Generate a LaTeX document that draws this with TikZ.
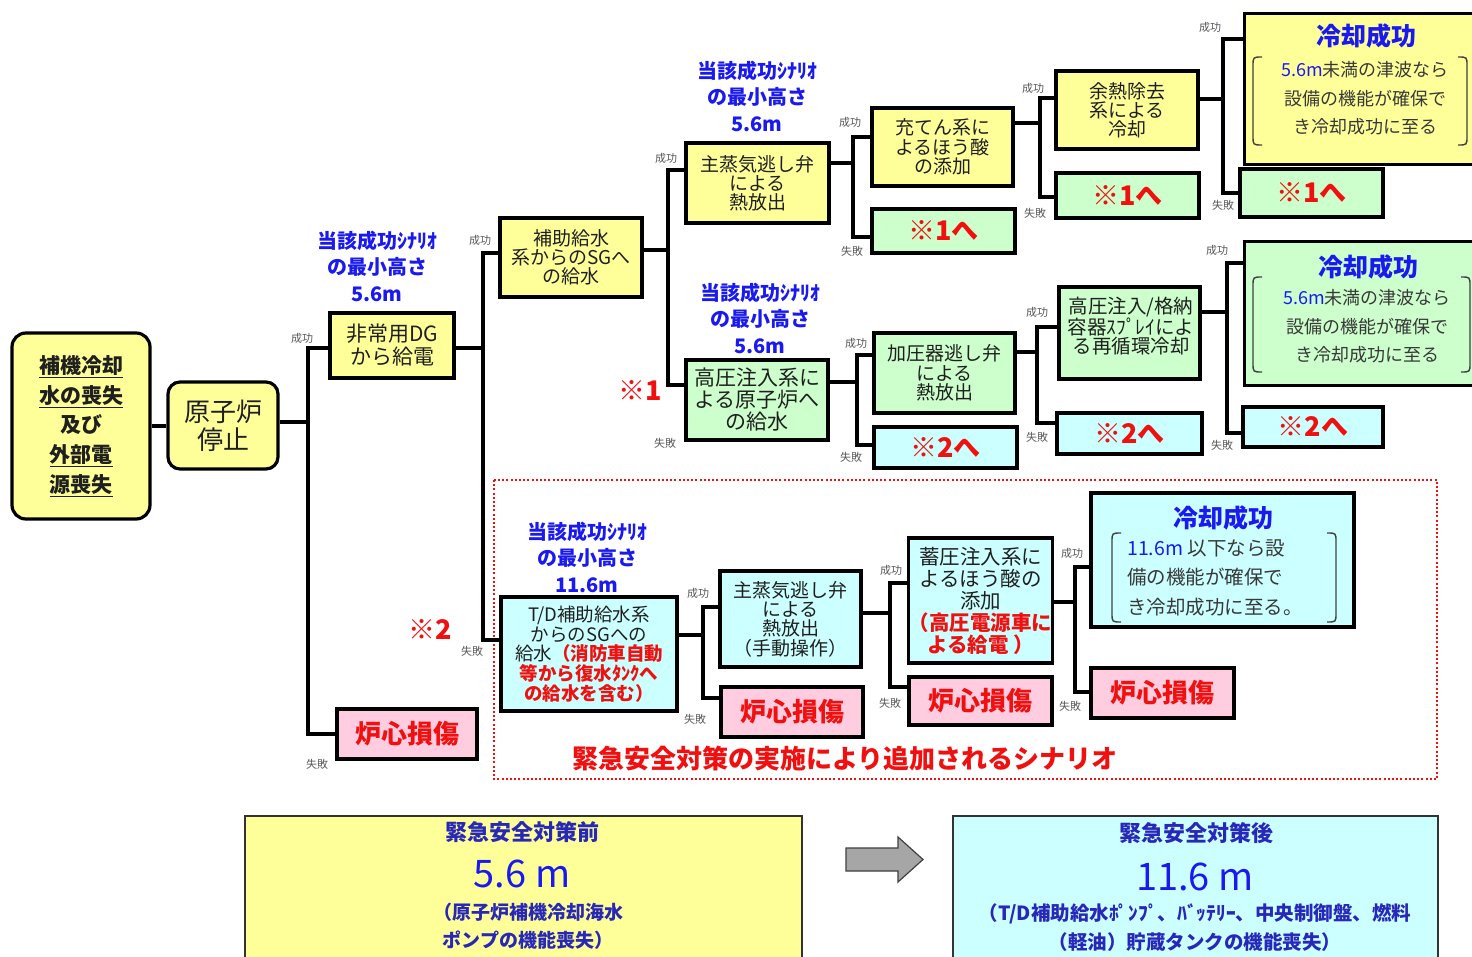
\documentclass[tikz,border=0pt]{standalone}
\usepackage{fontspec}
\setmainfont{Noto Sans CJK JP}
\newcommand\setfs[2]{\fontsize{#1}{#2}\selectfont}
\definecolor{ybox}{HTML}{FFFF99}
\definecolor{gbox}{HTML}{CCFFCC}
\definecolor{cbox}{HTML}{CCFFFF}
\definecolor{pbox}{HTML}{FFCCE0}
\definecolor{myblue}{HTML}{1A1AF0}
\definecolor{botblue}{HTML}{2828B8}
\definecolor{myred}{HTML}{F01010}
\newcommand\junc[8]{%
  \coordinate (#1i) at (#2,#3);
  \coordinate (#1t) at (#2,#4);
  \coordinate (#1b) at (#2,#5);
  \draw[conn] (#6.east |- #1i) -- (#1i);
  \draw[conn] (#7.west |- #1t) -- (#1t) -- (#1b) -- (#8.west |- #1b);}
\begin{document}
\begin{tikzpicture}[x=1pt,y=-1pt,
  box/.style={draw=black, line width=3.2pt, inner sep=0pt, align=center, text=black!88, font=\setfs{19}{19.5}},
  yb/.style={box, fill=ybox},
  gb/.style={box, fill=gbox},
  cb/.style={box, fill=cbox},
  pb/.style={box, fill=pbox, text=myred, font=\bfseries\setfs{26}{26}},
  refb/.style={text=myred, font=\bfseries\setfs{27}{27}},
  conn/.style={line width=4pt, draw=black},
  sm/.style={font=\setfs{11}{11}, text=black!65, inner sep=0pt},
  blu/.style={font=\bfseries\setfs{20}{26.5}, text=myblue, align=center, inner sep=0pt},
  okt/.style={font=\bfseries\setfs{25}{25}, text=myblue, inner sep=0pt},
  okb/.style={font=\setfs{18}{28.5}, text=black!78, align=center, inner sep=0pt},
  brk/.style={line width=1.4pt, draw=black!75},
  botb/.style={draw=black!80, line width=1.8pt, anchor=north west},
  bott/.style={font=\bfseries\setfs{22}{22}, text=botblue, inner sep=0pt},
]
\useasboundingbox (0,0) rectangle (1472,957);
\clip (0,0) rectangle (1472,957);
\fill[white] (0,0) rectangle (1472,957);

% red dotted frame
\draw[myred, line width=2.5pt, dash pattern=on 2pt off 2.2pt] (494,480) rectangle (1437,779);
\node[text=myred, font=\bfseries\setfs{26}{26}, inner sep=0pt] (scen) at (845,759) {緊急安全対策の実施により追加されるシナリオ};

% boxes
\node[yb, rounded corners=14pt, minimum width=138pt, minimum height=186pt, font=\bfseries\setfs{21}{29.7}] (b0) at (81,426)
  {\underline{補機冷却}\\\underline{水の喪失}\\及び\\\underline{外部電}\\\underline{源喪失}};
\node[yb, rounded corners=12pt, minimum width=110pt, minimum height=87pt, font=\setfs{26}{28}] (b1) at (223,425.5) {原子炉\\停止};
\node[yb, minimum width=124pt, minimum height=65pt, font=\setfs{21}{23}] (dg) at (392,345.5) {非常用DG\\から給電};
\node[yb, minimum width=142pt, minimum height=79pt, font=\setfs{19}{19}] (aux) at (571,257.5) {補助給水\\系からのSGへ\\の給水};
\node[yb, minimum width=143pt, minimum height=80pt, font=\setfs{19}{19}] (ms1) at (757.5,183) {主蒸気逃し弁\\による\\熱放出};
\node[gb, minimum width=142pt, minimum height=80pt, font=\setfs{21}{22}] (hpi) at (757,400) {高圧注入系に\\よる原子炉へ\\の給水};
\node[yb, minimum width=141pt, minimum height=78pt] (chg) at (942.5,147) {充てん系に\\よるほう酸\\の添加};
\node[gb, minimum width=143pt, minimum height=44pt] (f1a) at (943.5,231) {\textcolor{myred}{\bfseries\setfs{27}{27}※1へ}};
\node[yb, minimum width=142pt, minimum height=78pt, font=\setfs{19}{19}] (rhr) at (1127,110) {余熱除去\\系による\\冷却};
\node[gb, minimum width=143pt, minimum height=45pt] (f1b) at (1127.5,195.5) {\textcolor{myred}{\bfseries\setfs{27}{27}※1へ}};
\node[yb, anchor=north west, minimum width=260pt, minimum height=151pt] (ok1) at (1243,12) {};
\node[gb, minimum width=143pt, minimum height=48pt] (f1c) at (1311.5,193) {\textcolor{myred}{\bfseries\setfs{27}{27}※1へ}};

\node[gb, minimum width=141pt, minimum height=80pt] (prz) at (944.5,373) {加圧器逃し弁\\による\\熱放出};
\node[cb, minimum width=143pt, minimum height=41pt] (f2a) at (945.5,447.5) {\textcolor{myred}{\bfseries\setfs{27}{27}※2へ}};
\node[gb, minimum width=141pt, minimum height=92pt] (rec) at (1129.5,333) {};
\node[inner sep=0pt, align=center, text=black!88, font=\setfs{19.5}{19.5}] (rect) at (1131,326) {高圧注入/格納\\容器ｽﾌﾟﾚｲによ\\る再循環冷却};
\node[cb, minimum width=145pt, minimum height=41pt] (f2b) at (1129.5,433.5) {\textcolor{myred}{\bfseries\setfs{27}{27}※2へ}};
\node[gb, anchor=north west, minimum width=260pt, minimum height=144pt] (ok2) at (1243,240) {};
\node[cb, minimum width=140pt, minimum height=40pt] (f2c) at (1313,427) {\textcolor{myred}{\bfseries\setfs{27}{27}※2へ}};

\node[pb, minimum width=140pt, minimum height=50pt] (cd1) at (407,734) {炉心損傷};
\node[cb, minimum width=176pt, minimum height=114pt, font=\setfs{18.5}{19.7}] (td) at (589,654)
  {T/D補助給水系\\からのSGへの\\給水\textcolor{myred}{\bfseries （消防車自動}\\\textcolor{myred}{\bfseries 等から復水ﾀﾝｸへ}\\\textcolor{myred}{\bfseries の給水を含む）}};
\node[cb, minimum width=141pt, minimum height=96pt, font=\setfs{19}{19.3}] (ms2) at (790.5,619) {主蒸気逃し弁\\による\\熱放出\\（手動操作）};
\node[pb, minimum width=142pt, minimum height=50pt] (cd2) at (792,712) {炉心損傷};
\node[cb, minimum width=143pt, minimum height=125pt, font=\setfs{20.5}{22}] (acc) at (980.5,600.5)
  {蓄圧注入系に\\よるほう酸の\\添加\\\textcolor{myred}{\bfseries （高圧電源車に}\\\textcolor{myred}{\bfseries よる給電 ）}};
\node[pb, minimum width=143pt, minimum height=48pt] (cd3) at (980.5,701) {炉心損傷};
\node[cb, minimum width=263pt, minimum height=134pt] (ok3) at (1222.5,560) {};
\node[pb, minimum width=143pt, minimum height=50pt] (cd4) at (1162.5,693) {炉心損傷};

% success box texts
\node[okt] (ok1t) at (1366,36) {冷却成功};
\node[okb] (ok1x) at (1365,98.5) {\textcolor{myblue}{5.6m}未満の津波なら\\設備の機能が確保で\\き冷却成功に至る};
\draw[brk] (1262,57) .. controls (1253,57) .. (1253,66) -- (1253,136) .. controls (1253,145) .. (1262,145);
\draw[brk] (1458,57) .. controls (1467,57) .. (1467,66) -- (1467,136) .. controls (1467,145) .. (1458,145);
\node[okt] (ok2t) at (1368,267) {冷却成功};
\node[okb] (ok2x) at (1367,326.5) {\textcolor{myblue}{5.6m}未満の津波なら\\設備の機能が確保で\\き冷却成功に至る};
\draw[brk] (1262,277) .. controls (1253,277) .. (1253,286) -- (1253,363) .. controls (1253,372) .. (1262,372);
\draw[brk] (1461,277) .. controls (1470,277) .. (1470,286) -- (1470,363) .. controls (1470,372) .. (1461,372);
\node[okt] (ok3t) at (1223,518) {冷却成功};
\node[okb, align=left, anchor=west, font=\setfs{19.5}{29.5}] (ok3x) at (1127,577.5) {\textcolor{myblue}{11.6m} 以下なら設\\備の機能が確保で\\き冷却成功に至る。};
\draw[brk] (1121,533) .. controls (1112,533) .. (1112,542) -- (1112,613) .. controls (1112,622) .. (1121,622);
\draw[brk] (1327,533) .. controls (1336,533) .. (1336,542) -- (1336,613) .. controls (1336,622) .. (1327,622);

% connectors
\draw[conn] (b0.east |- b1.west) -- (b1.west);
\junc{j1}{308}{422}{348}{734}{b1}{dg}{cd1}
\junc{j2}{483}{348}{253}{640}{dg}{aux}{td}
\junc{j3}{668}{250}{170}{385}{aux}{ms1}{hpi}
\junc{j4}{853}{163}{137}{237}{ms1}{chg}{f1a}
\junc{j5}{1040}{123}{98}{197}{chg}{rhr}{f1b}
\junc{j6}{1223}{99}{39}{193}{rhr}{ok1}{f1c}
\junc{j7}{857}{382}{355}{445}{hpi}{prz}{f2a}
\junc{j8}{1037}{352}{327}{423}{prz}{rec}{f2b}
\junc{j9}{1227}{312}{263}{433}{rec}{ok2}{f2c}
\junc{j10}{703}{635}{607}{698}{td}{ms2}{cd2}
\junc{j11}{890}{613}{583}{687}{ms2}{acc}{cd3}
\junc{j12}{1075}{602}{567}{692}{acc}{ok3}{cd4}

% success / failure labels
\node[sm] (s1) at (302,338) {成功};  \node[sm] (f1) at (317,764) {失敗};
\node[sm] (s2) at (480,240) {成功};  \node[sm] (f2) at (472,651) {失敗};
\node[sm] (s3) at (666,158) {成功};  \node[sm] (f3) at (665,443) {失敗};
\node[sm] (s4) at (850,122) {成功};  \node[sm] (f4) at (852,251) {失敗};
\node[sm] (s5) at (1033,88) {成功};  \node[sm] (f5) at (1035,213) {失敗};
\node[sm] (s6) at (1210,27) {成功};  \node[sm] (f6) at (1223,205) {失敗};
\node[sm] (s7) at (856,343) {成功};  \node[sm] (f7) at (851,457) {失敗};
\node[sm] (s8) at (1037,312) {成功}; \node[sm] (f8) at (1037,437) {失敗};
\node[sm] (s9) at (1217,250) {成功}; \node[sm] (f9) at (1222,445) {失敗};
\node[sm] (s10) at (698,593) {成功}; \node[sm] (f10) at (695,719) {失敗};
\node[sm] (s11) at (891,570) {成功}; \node[sm] (f11) at (890,703) {失敗};
\node[sm] (s12) at (1072,553) {成功}; \node[sm] (f12) at (1070,706) {失敗};

% blue height labels
\node[blu] (h1) at (377,266) {当該成功ｼﾅﾘｵ\\の最小高さ\\5.6m};
\node[blu] (h2) at (757,96) {当該成功ｼﾅﾘｵ\\の最小高さ\\5.6m};
\node[blu] (h3) at (760,318) {当該成功ｼﾅﾘｵ\\の最小高さ\\5.6m};
\node[blu] (h4) at (587,557) {当該成功ｼﾅﾘｵ\\の最小高さ\\11.6m};

% red marks
\node[refb, inner sep=0pt] (m1) at (640,391) {※1};
\node[refb, inner sep=0pt] (m2) at (430,630) {※2};

% bottom comparison
\node[botb, fill=ybox, minimum width=557pt, minimum height=170pt] (pre) at (244,815) {};
\node[bott] (pret) at (522,832) {緊急安全対策前};
\node[bott, font=\setfs{38}{38}, text=myblue] (prev) at (522,874) {5.6 m};
\node[bott, font=\bfseries\setfs{19}{28}, align=center] (pred) at (528,926) {（原子炉補機冷却海水\\ポンプの機能喪失）};
\draw[fill=black!35, draw=black!75, line width=1.2pt] (846,848) -- (898,848) -- (898,837) -- (923,859.5) -- (898,882) -- (898,871) -- (846,871) -- cycle;
\node[botb, fill=cbox, minimum width=485pt, minimum height=170pt] (post) at (952,815) {};
\node[bott] (postt) at (1196,833) {緊急安全対策後};
\node[bott, font=\setfs{38}{38}, text=myblue] (postv) at (1195,877) {11.6 m};
\node[bott, font=\bfseries\setfs{19.5}{29}, align=center] (postd) at (1195,927.5) {（T/D補助給水ﾎﾟﾝﾌﾟ、ﾊﾞｯﾃﾘｰ、中央制御盤、燃料\\（軽油）貯蔵タンクの機能喪失）};
\end{tikzpicture}
\end{document}
